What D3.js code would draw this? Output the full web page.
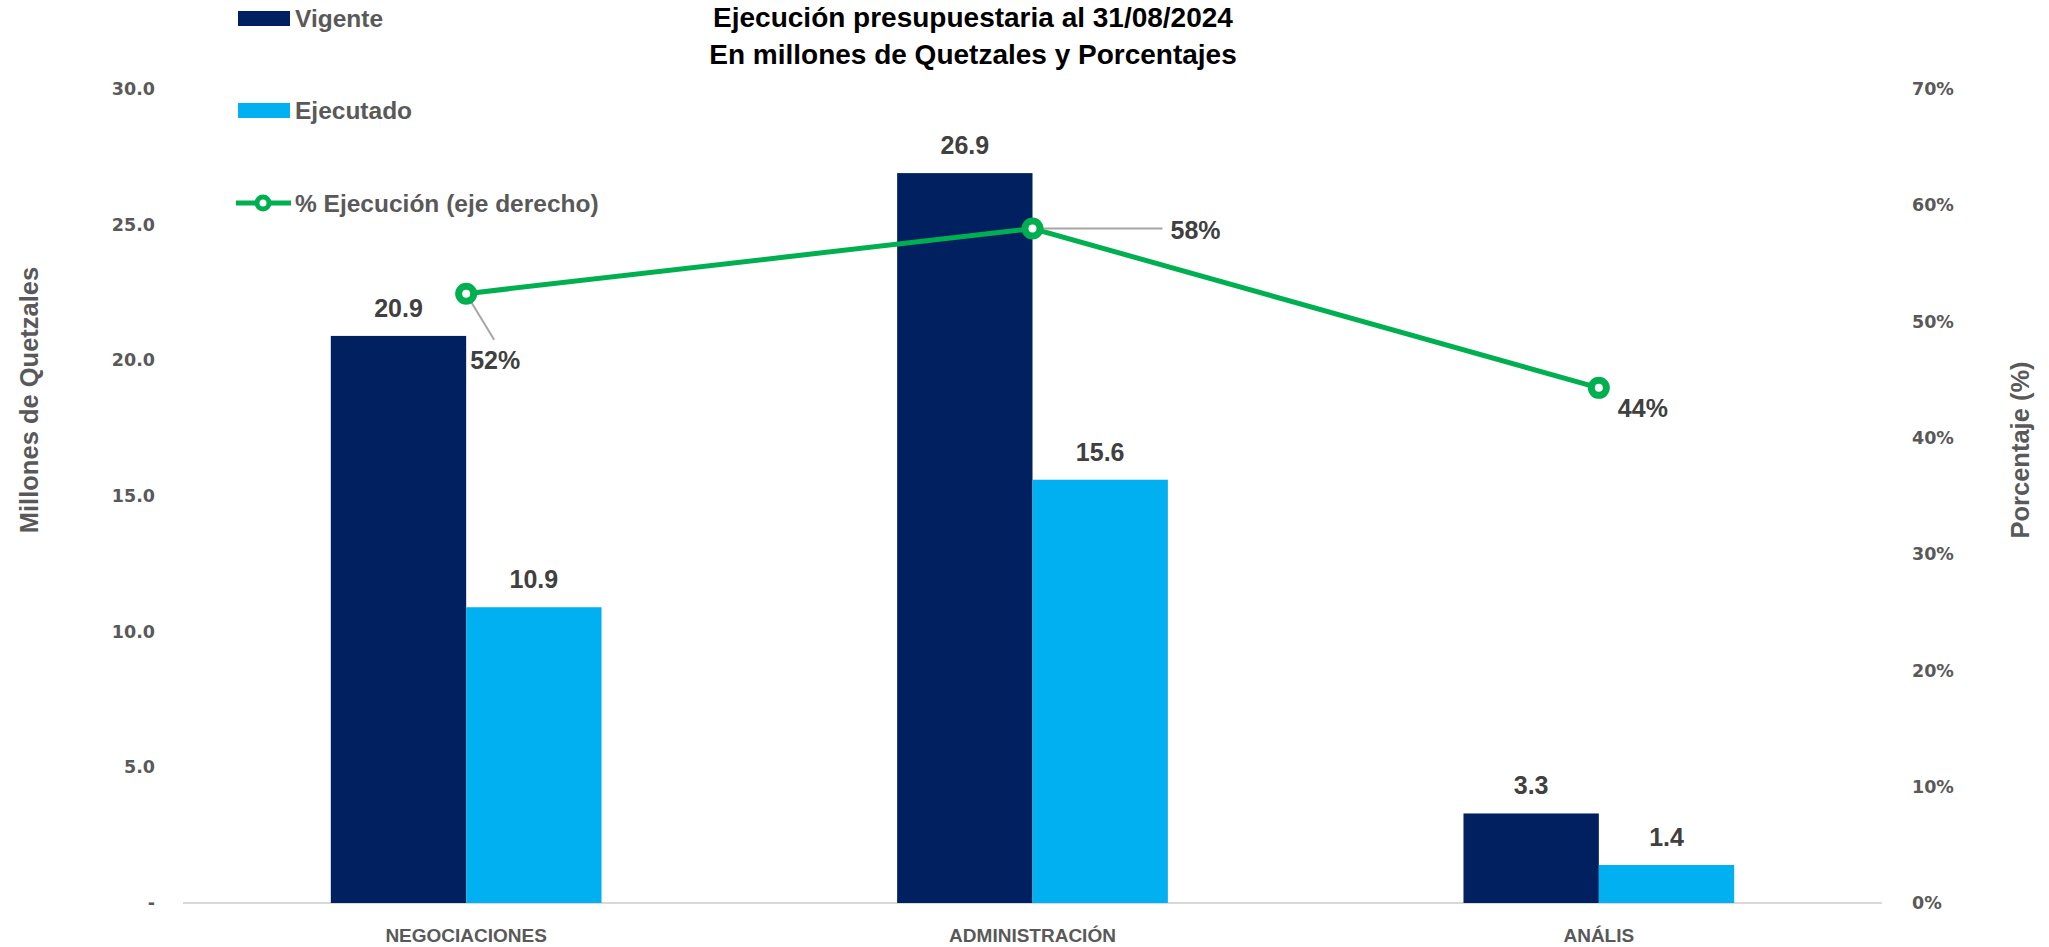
<!DOCTYPE html>
<html>
<head>
<meta charset="utf-8">
<script src="https://cdn.jsdelivr.net/npm/d3@7"></script>
<style>
  body { margin: 0; background: #fff; }
  svg { display: block; }
</style>
</head>
<body>
<script>
"use strict";

// chart data
var categories = ["NEGOCIACIONES", "ADMINISTRACIÓN", "ANÁLIS"];
var vigente = [20.9, 26.9, 3.3];
var ejecutado = [10.9, 15.6, 1.4];
var pctEjecucion = [0.524, 0.58, 0.443];
var leftTicks = [0, 5, 10, 15, 20, 25, 30];
var rightTicks = [0, 0.1, 0.2, 0.3, 0.4, 0.5, 0.6, 0.7];

var W = 2049, H = 947;
var plotLeft = 183, plotRight = 1882, plotTop = 89, plotBottom = 903;

var svg = d3.select("body").append("svg")
    .attr("width", W)
    .attr("height", H);

var x = d3.scaleBand().domain(categories).range([plotLeft, plotRight]).padding(0);
var y = d3.scaleLinear().domain([0, 30]).range([plotBottom, plotTop]);
var y2 = d3.scaleLinear().domain([0, 0.7]).range([plotBottom, plotTop]);
var barW = x.bandwidth() * 0.239;
var cx = function(c) { return x(c) + x.bandwidth() / 2; };

// title
var title = svg.append("text")
    .attr("text-anchor", "middle")
    .style("font-family", "Liberation Sans, Arial, sans-serif")
    .style("font-weight", "bold")
    .style("font-size", "28px")
    .attr("fill", "#000");
title.append("tspan").attr("x", 973).attr("y", 27).text("Ejecución presupuestaria al 31/08/2024");
title.append("tspan").attr("x", 973).attr("y", 64).text("En millones de Quetzales y Porcentajes");

// baseline
svg.append("line")
    .attr("x1", plotLeft).attr("x2", plotRight)
    .attr("y1", y(0)).attr("y2", y(0))
    .attr("stroke", "#D9D9D9")
    .attr("stroke-width", 2);

// left axis
var yAxis = d3.axisLeft(y)
    .tickValues(leftTicks)
    .tickSize(0)
    .tickPadding(0)
    .tickFormat(function(d) { return d === 0 ? "-" : d3.format(".1f")(d); });
var gy = svg.append("g").attr("transform", "translate(155,0)").call(yAxis);
gy.select(".domain").remove();
gy.selectAll("text")
    .style("font-family", "DejaVu Sans, sans-serif")
    .style("font-weight", "bold")
    .style("font-size", "17.5px")
    .attr("fill", "#595959");

// right axis
var yAxis2 = d3.axisRight(y2)
    .tickValues(rightTicks)
    .tickSize(0)
    .tickPadding(0)
    .tickFormat(d3.format(".0%"));
var gy2 = svg.append("g").attr("transform", "translate(1912,0)").call(yAxis2);
gy2.select(".domain").remove();
gy2.selectAll("text")
    .style("font-family", "DejaVu Sans, sans-serif")
    .style("font-weight", "bold")
    .style("font-size", "17.5px")
    .attr("fill", "#595959");

// axis titles
svg.append("text")
    .attr("transform", "translate(38,400) rotate(-90)")
    .attr("text-anchor", "middle")
    .style("font-family", "Liberation Sans, Arial, sans-serif")
    .style("font-weight", "bold")
    .style("font-size", "25.5px")
    .attr("fill", "#595959")
    .text("Millones de Quetzales");

svg.append("text")
    .attr("transform", "translate(2029,450) rotate(-90)")
    .attr("text-anchor", "middle")
    .style("font-family", "Liberation Sans, Arial, sans-serif")
    .style("font-weight", "bold")
    .style("font-size", "25.5px")
    .attr("fill", "#595959")
    .text("Porcentaje (%)");

// category labels
svg.selectAll(".cat")
    .data(categories)
  .enter().append("text")
    .attr("class", "cat")
    .attr("x", cx)
    .attr("y", 942)
    .attr("text-anchor", "middle")
    .style("font-family", "Liberation Sans, Arial, sans-serif")
    .style("font-weight", "bold")
    .style("font-size", "19px")
    .attr("fill", "#595959")
    .text(function(d) { return d; });

// bars + value labels
function addBars(values, color, offset) {
  svg.selectAll(null)
      .data(values)
    .enter().append("rect")
      .attr("x", function(d, i) { return cx(categories[i]) + offset; })
      .attr("y", function(d) { return y(d); })
      .attr("width", barW)
      .attr("height", function(d) { return y(0) - y(d); })
      .attr("fill", color);

  svg.selectAll(null)
      .data(values)
    .enter().append("text")
      .attr("x", function(d, i) { return cx(categories[i]) + offset + barW / 2; })
      .attr("y", function(d) { return y(d) - 19; })
      .attr("text-anchor", "middle")
      .style("font-family", "Liberation Sans, Arial, sans-serif")
      .style("font-weight", "bold")
      .style("font-size", "25px")
      .attr("fill", "#404040")
      .text(function(d) { return d3.format(".1f")(d); });
}
addBars(vigente, "#002060", -barW);
addBars(ejecutado, "#00B0F0", 0);

// line
var line = d3.line()
    .x(function(d, i) { return cx(categories[i]); })
    .y(function(d) { return y2(d); });

svg.append("path")
    .datum(pctEjecucion)
    .attr("d", line)
    .attr("fill", "none")
    .attr("stroke", "#00B050")
    .attr("stroke-width", 5);

// label offsets from each point: [label dx, label dy, leader dx, leader dy]
var labelOffsets = [[4, 75, 28, 46], [138, 10, 130, 0], [19, 29, null, null]];

labelOffsets.forEach(function(o, i) {
  var px = cx(categories[i]), py = y2(pctEjecucion[i]);
  if (o[2] !== null) {
    svg.append("line")
      .attr("x1", px).attr("y1", py)
      .attr("x2", px + o[2]).attr("y2", py + o[3])
      .attr("stroke", "#A6A6A6")
      .attr("stroke-width", 2);
  }
});

svg.selectAll(".mk")
    .data(pctEjecucion)
  .enter().append("circle")
    .attr("class", "mk")
    .attr("cx", function(d, i) { return cx(categories[i]); })
    .attr("cy", function(d) { return y2(d); })
    .attr("r", 7.5)
    .attr("fill", "#fff")
    .attr("stroke", "#00B050")
    .attr("stroke-width", 7);

svg.selectAll(".pl")
    .data(pctEjecucion)
  .enter().append("text")
    .attr("class", "pl")
    .attr("x", function(d, i) { return cx(categories[i]) + labelOffsets[i][0]; })
    .attr("y", function(d, i) { return y2(d) + labelOffsets[i][1]; })
    .style("font-family", "Liberation Sans, Arial, sans-serif")
    .style("font-weight", "bold")
    .style("font-size", "25px")
    .attr("fill", "#404040")
    .text(function(d) { return d3.format(".0%")(d); });

// legend
var legend = svg.append("g").attr("class", "legend");
legend.append("rect").attr("x", 238).attr("y", 11).attr("width", 52).attr("height", 15).attr("fill", "#002060");
legend.append("rect").attr("x", 238).attr("y", 103).attr("width", 52).attr("height", 15).attr("fill", "#00B0F0");
legend.append("line").attr("x1", 236).attr("x2", 291).attr("y1", 203).attr("y2", 203)
    .attr("stroke", "#00B050").attr("stroke-width", 5);
legend.append("circle").attr("cx", 263).attr("cy", 203).attr("r", 6)
    .attr("fill", "#fff").attr("stroke", "#00B050").attr("stroke-width", 5);

var legendItems = [["Vigente", 27], ["Ejecutado", 119], ["% Ejecución (eje derecho)", 212]];
legend.selectAll("text")
    .data(legendItems)
  .enter().append("text")
    .attr("x", 295)
    .attr("y", function(d) { return d[1]; })
    .style("font-family", "Liberation Sans, Arial, sans-serif")
    .style("font-weight", "bold")
    .style("font-size", "24.5px")
    .attr("fill", "#595959")
    .text(function(d) { return d[0]; });
</script>
</body>
</html>
